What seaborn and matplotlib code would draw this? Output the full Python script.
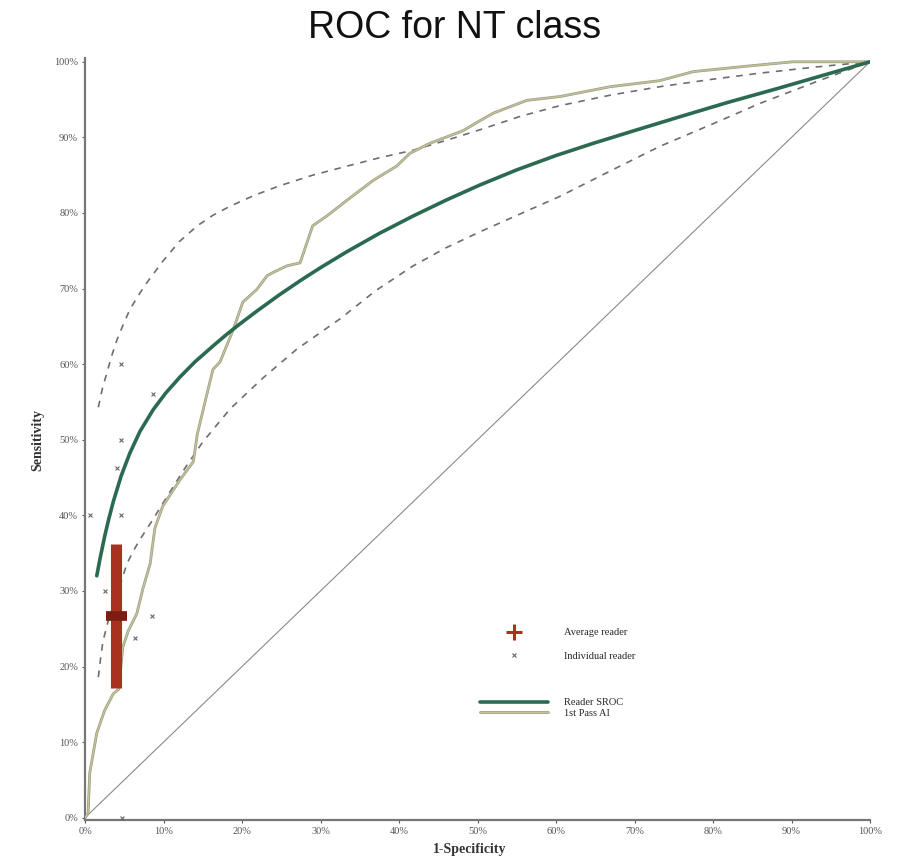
import numpy as np
import pandas as pd
import matplotlib
matplotlib.use("Agg")
import matplotlib.pyplot as plt
import matplotlib.patheffects as pe
from matplotlib.lines import Line2D
import seaborn as sns

# ---------------- data (fractions) ----------------
sroc_fpr = [0.015, 0.019, 0.025, 0.030, 0.036, 0.046, 0.057, 0.070, 0.087, 0.103, 0.121, 0.140, 0.163,
            0.180, 0.197, 0.220, 0.248, 0.275, 0.299, 0.334, 0.375, 0.418, 0.460, 0.503, 0.550, 0.600,
            0.647, 0.700, 0.760, 0.818, 0.880, 0.940, 1.0]
sroc_tpr = [0.320, 0.342, 0.372, 0.394, 0.418, 0.452, 0.482, 0.511, 0.540, 0.562, 0.583, 0.603, 0.624,
            0.639, 0.653, 0.671, 0.692, 0.711, 0.727, 0.749, 0.773, 0.796, 0.817, 0.837, 0.857, 0.876,
            0.892, 0.909, 0.928, 0.946, 0.964, 0.982, 1.0]

upper_fpr = [0.017, 0.022, 0.028, 0.034, 0.041, 0.049, 0.057, 0.068, 0.079, 0.099, 0.120, 0.143, 0.163,
             0.185, 0.215, 0.248, 0.290, 0.334, 0.375, 0.418, 0.460, 0.503, 0.555, 0.605, 0.670, 0.732,
             0.800, 0.860, 0.930, 1.0]
upper_tpr = [0.543, 0.567, 0.589, 0.611, 0.633, 0.653, 0.672, 0.691, 0.708, 0.736, 0.762, 0.783, 0.797,
             0.809, 0.823, 0.836, 0.850, 0.862, 0.873, 0.883, 0.896, 0.910, 0.928, 0.942, 0.956, 0.967,
             0.977, 0.985, 0.993, 1.0]

lower_fpr = [0.017, 0.020, 0.023, 0.030, 0.040, 0.047, 0.053, 0.061, 0.070, 0.085, 0.104, 0.127, 0.150,
             0.185, 0.227, 0.270, 0.325, 0.370, 0.418, 0.460, 0.503, 0.555, 0.605, 0.670, 0.732, 0.800,
             0.860, 0.930, 1.0]
lower_tpr = [0.186, 0.212, 0.234, 0.262, 0.292, 0.315, 0.335, 0.352, 0.368, 0.392, 0.424, 0.462, 0.497,
             0.541, 0.582, 0.620, 0.660, 0.697, 0.730, 0.754, 0.775, 0.799, 0.822, 0.856, 0.888, 0.918,
             0.945, 0.973, 1.0]

ai_fpr = [0.0, 0.004, 0.006, 0.015, 0.025, 0.036, 0.043, 0.048, 0.055, 0.066, 0.074, 0.083, 0.089, 0.099,
          0.121, 0.138, 0.143, 0.155, 0.163, 0.172, 0.189, 0.201, 0.219, 0.232, 0.239, 0.257, 0.274, 0.290,
          0.308, 0.334, 0.367, 0.397, 0.414, 0.439, 0.482, 0.503, 0.520, 0.563, 0.605, 0.669, 0.732,
          0.775, 0.851, 0.902, 1.0]
ai_tpr = [0.0, 0.006, 0.059, 0.112, 0.142, 0.164, 0.170, 0.225, 0.247, 0.270, 0.304, 0.336, 0.383, 0.412,
          0.447, 0.471, 0.507, 0.559, 0.593, 0.603, 0.646, 0.682, 0.699, 0.717, 0.721, 0.730, 0.734, 0.783,
          0.796, 0.817, 0.843, 0.862, 0.879, 0.892, 0.909, 0.922, 0.932, 0.949, 0.954, 0.967, 0.975,
          0.987, 0.995, 1.0, 1.0]

reader_fpr = [0.046, 0.087, 0.046, 0.041, 0.006, 0.046, 0.025, 0.085, 0.064, 0.047]
reader_tpr = [0.600, 0.560, 0.500, 0.462, 0.400, 0.400, 0.300, 0.267, 0.238, 0.000]

avg_fpr = 0.040
avg_tpr = 0.267
avg_fpr_ci = [0.027, 0.053]
avg_tpr_ci = [0.171, 0.362]

x_ticks = [0, 0.1, 0.2, 0.3, 0.4, 0.5, 0.6, 0.7, 0.8, 0.9, 1.0]
x_ticklabels = ["0%", "10%", "20%", "30%", "40%", "50%", "60%", "70%", "80%", "90%", "100%"]
y_ticks = x_ticks
y_ticklabels = x_ticklabels

# ---------------- style ----------------
sns.set_theme(style="white")
plt.rcParams["font.family"] = ["Liberation Serif", "DejaVu Serif"]

fig = plt.figure(figsize=(8.97, 8.58), dpi=100)
ax = fig.add_axes([85 / 897, 1 - 820 / 858, (870 - 85) / 897, (820 - 58) / 858])

C_SROC = "#2b6a50"
C_AI = "#c4c496"
C_AI_EDGE = "#9a9a88"
C_DASH = "#6e6e6e"
C_RED = "#a8321f"

# chance line
ax.plot([0, 1], [0, 1], color="#8a8a8a", lw=0.8, zorder=1)

# confidence bounds
for fx, fy in [(upper_fpr, upper_tpr), (lower_fpr, lower_tpr)]:
    d = pd.DataFrame({"fpr": fx, "tpr": fy})
    sns.lineplot(data=d, x="fpr", y="tpr", sort=False, estimator=None, ax=ax,
                 color=C_DASH, lw=1.2, zorder=2)
    ax.lines[-1].set_dashes((4, 4))

# AI curve
df_ai = pd.DataFrame({"fpr": ai_fpr, "tpr": ai_tpr})
sns.lineplot(data=df_ai, x="fpr", y="tpr", sort=False, estimator=None, ax=ax,
             color=C_AI, lw=1.0, zorder=3)
ax.lines[-1].set_path_effects([pe.Stroke(linewidth=2.0, foreground=C_AI_EDGE), pe.Normal()])

# SROC
df_sroc = pd.DataFrame({"fpr": sroc_fpr, "tpr": sroc_tpr})
sns.lineplot(data=df_sroc, x="fpr", y="tpr", sort=False, estimator=None, ax=ax,
             color=C_SROC, lw=2.6, zorder=4)

# individual readers
df_r = pd.DataFrame({"fpr": reader_fpr, "tpr": reader_tpr})
sns.scatterplot(data=df_r, x="fpr", y="tpr", ax=ax, marker="x", s=8,
                color="#666666", linewidth=0.8, zorder=5)

# average reader with CI
ax.plot([avg_fpr, avg_fpr], avg_tpr_ci, color=C_RED, lw=8, solid_capstyle="butt", zorder=6)
ax.plot(avg_fpr_ci, [avg_tpr, avg_tpr], color="#7e1e12", lw=7, solid_capstyle="butt", zorder=7)

ax.set_xlim(0, 1.0)
ax.set_ylim(-0.003, 1.005)
ax.set_xticks(x_ticks)
ax.set_xticklabels(x_ticklabels)
ax.set_yticks(y_ticks)
ax.set_yticklabels(y_ticklabels)
ax.tick_params(axis="both", labelsize=7.5, colors="#555555", length=2, width=0.8, pad=3,
               direction="out", left=True, bottom=True)
for s in ["top", "right"]:
    ax.spines[s].set_visible(False)
for s in ["left", "bottom"]:
    ax.spines[s].set_color("#777777")
    ax.spines[s].set_linewidth(1.6)

ax.set_xlabel("1-Specificity", fontsize=10, fontweight="bold", color="#333333")
ax.set_ylabel("Sensitivity", fontsize=10, fontweight="bold", color="#333333")
ax.xaxis.set_label_coords((470 - 85) / 785, -0.030)
ax.yaxis.set_label_coords(-0.052, (820 - 440) / 762)

fig.suptitle("ROC for NT class", x=455 / 897, y=1 - 28 / 858, va="center",
             fontsize=27, family=["Liberation Sans", "DejaVu Sans"], color="#111111")

# legends
h1 = [Line2D([], [], ls="none", marker="+", markersize=11, markeredgewidth=2.2, color=C_RED),
      Line2D([], [], ls="none", marker="x", markersize=3, markeredgewidth=0.8, color="#666666")]
leg1 = ax.legend(h1, ["Average reader", "Individual reader"], loc="upper left",
                 bbox_to_anchor=((480 - 85) / 785, (820 - 628) / 762), frameon=False,
                 fontsize=7.5, handlelength=6.5, handletextpad=1.6, labelspacing=1.35,
                 borderpad=0, borderaxespad=0)
ax.add_artist(leg1)
h2 = [Line2D([], [], color=C_SROC, lw=2.6),
      Line2D([], [], color=C_AI, lw=1.0,
             path_effects=[pe.Stroke(linewidth=2.0, foreground=C_AI_EDGE), pe.Normal()])]
leg2 = ax.legend(h2, ["Reader SROC", "1st Pass AI"], loc="upper left",
                 bbox_to_anchor=((480 - 85) / 785, (820 - 698) / 762), frameon=False,
                 fontsize=7.5, handlelength=6.5, handletextpad=1.6, labelspacing=0.15,
                 borderpad=0, borderaxespad=0)

fig.savefig("out.png", dpi=100)
